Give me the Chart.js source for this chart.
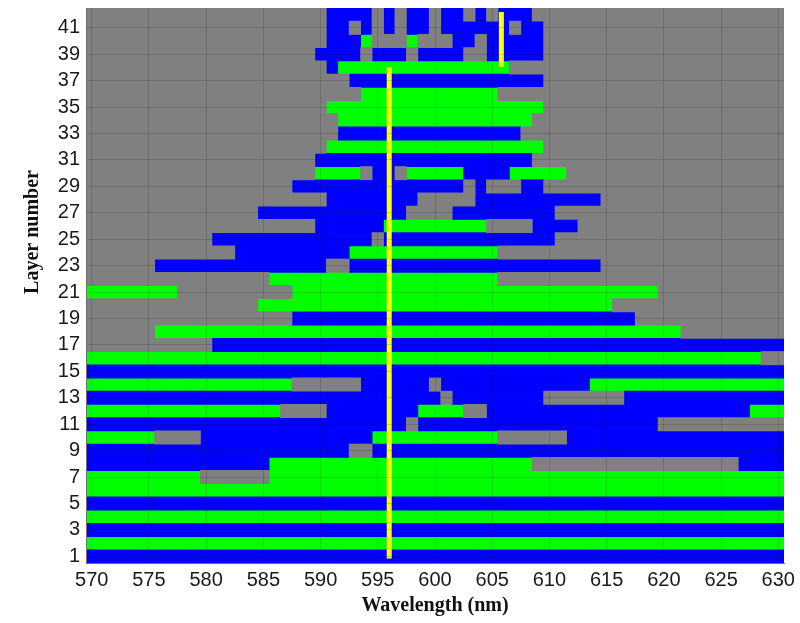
<!DOCTYPE html>
<html>
<head>
<meta charset="utf-8">
<script src="https://cdn.jsdelivr.net/npm/chart.js@4.4.1/dist/chart.umd.min.js"></script>
<style>
html,body{margin:0;padding:0;background:#fff;}
canvas{display:block;}
</style>
</head>
<body>
<canvas id="c" width="800" height="623" style="width:800px;height:623px"></canvas>
<script>
// ---- data ----
const wavelengthTicks = [570, 575, 580, 585, 590, 595, 600, 605, 610, 615, 620, 625, 630];
const layerTicks = [1, 3, 5, 7, 9, 11, 13, 15, 17, 19, 21, 23, 25, 27, 29, 31, 33, 35, 37, 39, 41];
const layerCount = 42;
const wavelengthFirst = 570;
const wavelengthLast = 630;
// one entry per layer (layer 1 first): wavelength ranges (nm) and state B = blue, G = green, N = gray
const layerRows = [
  "570-630B",
  "570-630G",
  "570-630B",
  "570-630G",
  "570-630B",
  "570-630G",
  "570-579G 580-585N 586-630G",
  "570-585B 586-608G 609-626N 627-630B",
  "570-592B 593-594N 595-630B",
  "570-575G 576-579N 580-594B 595-605G 606-611N 612-630B",
  "570-597B 598N 599-619B 620-630N",
  "570-586G 587-590N 591-598B 599-602G 603-604N 605-627B 628-630G",
  "570-600B 601N 602-609B 610-616N 617-630B",
  "570-587G 588-593N 594-599B 600N 601-613B 614-630G",
  "570-630B",
  "570-628G 629-630N",
  "570-580N 581-630B",
  "570-575N 576-621G 622-630N",
  "570-587N 588-617B 618-630N",
  "570-584N 585-615G 616-630N",
  "570-577G 578-587N 588-619G 620-630N",
  "570-585N 586-605G 606-630N",
  "570-575N 576-590B 591-592N 593-614B 615-630N",
  "570-582N 583-592B 593-605G 606-630N",
  "570-580N 581-594B 595N 596-610B 611-630N",
  "570-589N 590-595B 596-604G 605-608N 609-612B 613-630N",
  "570-584N 585-597B 598-601N 602-610B 611-630N",
  "570-590N 591-598B 599-603N 604-614B 615-630N",
  "570-587N 588-602B 603N 604B 605-607N 608-609B 610-630N",
  "570-589N 590-593G 594N 595-596B 597N 598-602G 603-606B 607-611G 612-630N",
  "570-589N 590-608B 609-630N",
  "570-590N 591-609G 610-630N",
  "570-591N 592-607B 608-630N",
  "570-591N 592-608G 609-630N",
  "570-590N 591-609G 610-630N",
  "570-593N 594-605G 606-630N",
  "570-592N 593-609B 610-630N",
  "570-590N 591B 592-606G 607-630N",
  "570-589N 590-593B 594N 595-597B 598N 599-602B 603-604N 605-609B 610-630N",
  "570-590N 591-593B 594G 595-597N 598G 599-601N 602-603B 604N 605-609B 610-630N",
  "570-590N 591-592B 593N 594B 595N 596B 597N 598-599B 600N 601-606B 607N 608-609B 610-630N",
  "570-590N 591-594B 595N 596B 597N 598-599B 600N 601-602B 603N 604B 605N 606-608B 609-630N"
];
// yellow marker lines
const markerWavelengths = [596.0, 605.8];
const markerLayerFrom = [0.85, 38.05];
const markerLayerTo = [38.0, 42.2];

// ---- build datasets ----
const stateColors = { B: '#0000ff', G: '#00ff00', N: '#808080' };
const stateData = { B: [], G: [], N: [] };
layerRows.forEach((row, i) => {
  row.split(/\s+/).forEach(tok => {
    const m = tok.match(/^(\d+)(?:-(\d+))?([BGN])$/);
    if (!m) return;
    const a = +m[1], b = m[2] ? +m[2] : +m[1];
    stateData[m[3]].push({ x: [a - 0.5, b + 0.5], y: i + 1 });
  });
});

const datasets = [];
markerWavelengths.forEach((w, k) => {
  datasets.push({
    type: 'line',
    data: [{ x: w, y: markerLayerFrom[k] }, { x: w, y: markerLayerTo[k] }],
    borderColor: '#ffff00',
    borderWidth: 5,
    pointRadius: 0,
    borderCapStyle: 'butt',
    fill: false,
    order: 0
  });
});
['N', 'B', 'G'].forEach(s => {
  datasets.push({
    type: 'bar',
    indexAxis: 'y',
    data: stateData[s],
    backgroundColor: stateColors[s],
    borderWidth: 0,
    grouped: false,
    barPercentage: 1,
    categoryPercentage: 1,
    inflateAmount: 0.4,
    order: 1
  });
});

const tickFont = { family: '"Liberation Sans", Arial, sans-serif', size: 20 };
const titleFont = { family: '"Liberation Serif", "Times New Roman", serif', size: 20, weight: 'bold' };

const areaBackground = {
  id: 'areaBackground',
  beforeDatasetsDraw(chart) {
    const { ctx, chartArea: a } = chart;
    ctx.save();
    ctx.fillStyle = stateColors.N;
    ctx.fillRect(a.left, a.top, a.right - a.left, a.bottom - a.top);
    ctx.restore();
  }
};

const yTitlePlugin = {
  id: 'yTitle',
  afterDraw(chart) {
    const ctx = chart.ctx;
    ctx.save();
    ctx.translate(33, 232);
    ctx.rotate(-Math.PI / 2);
    ctx.font = 'bold 20px "Liberation Serif", "Times New Roman", serif';
    ctx.fillStyle = '#111';
    ctx.textAlign = 'center';
    ctx.textBaseline = 'middle';
    ctx.fillText('Layer number', 0, 0);
    ctx.restore();
  }
};

const gridOpts = { color: 'rgba(0,0,0,0.14)', lineWidth: 1, drawTicks: false, offset: false, z: 1 };

new Chart(document.getElementById('c'), {
  type: 'bar',
  data: { datasets },
  options: {
    indexAxis: 'y',
    responsive: false,
    devicePixelRatio: 1,
    animation: false,
    layout: { padding: { left: 0, top: 8, right: 16, bottom: 0 } },
    plugins: { legend: { display: false }, tooltip: { enabled: false }, title: { display: false } },
    scales: {
      x: {
        type: 'linear',
        position: 'bottom',
        min: wavelengthFirst - 0.5,
        max: wavelengthLast + 0.5,
        offset: false,
        beginAtZero: false,
        grid: gridOpts,
        border: { display: true, color: '#707070', z: 2 },
        afterBuildTicks: s => { s.ticks = wavelengthTicks.map(v => ({ value: v })); },
        afterFit: s => { s.height = 60; s.paddingLeft = 0; s.paddingRight = 0; },
        ticks: { padding: 5, font: tickFont, color: '#1a1a1a', autoSkip: false, maxRotation: 0, callback: v => String(v) },
        title: { display: true, text: 'Wavelength (nm)', font: titleFont, color: '#111', padding: { top: 0, bottom: 5 } }
      },
      y: {
        type: 'linear',
        position: 'left',
        min: 0.5,
        max: layerCount + 0.5,
        offset: false,
        beginAtZero: false,
        grid: gridOpts,
        border: { display: true, color: '#707070', z: 2 },
        afterBuildTicks: s => { s.ticks = layerTicks.map(v => ({ value: v })); },
        afterFit: s => { s.width = 86; s.paddingTop = 0; s.paddingBottom = 0; },
        ticks: { padding: 6, font: tickFont, color: '#1a1a1a', autoSkip: false, callback: v => String(v) }
      }
    }
  },
  plugins: [areaBackground, yTitlePlugin]
});
</script>
</body>
</html>
